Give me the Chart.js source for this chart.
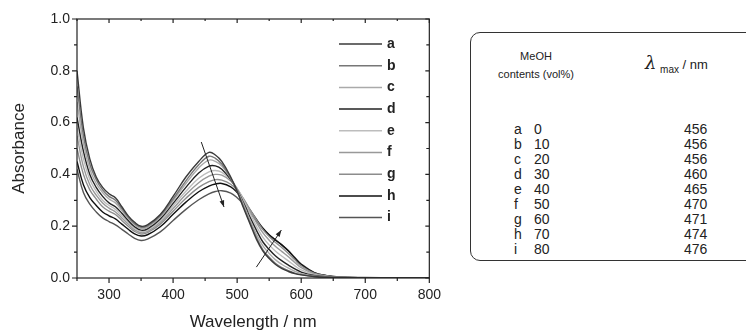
<!DOCTYPE html>
<html>
<head>
<meta charset="utf-8">
<script src="https://cdn.jsdelivr.net/npm/chart.js@4.4.1/dist/chart.umd.min.js"></script>
<style>
  html, body { margin: 0; padding: 0; background: #fff; width: 746px; height: 333px; overflow: hidden; font-family: "Liberation Sans", Arial, sans-serif; }
  #wrap { position: absolute; left: 0; top: 0; width: 450px; height: 333px; }
  #box { position: absolute; left: 470px; top: 32px; width: 300px; height: 227px; border: 1.3px solid #333; border-radius: 10px; color: #222; }
  #box div { position: absolute; white-space: nowrap; }
  .hd { font-size: 11px; transform: translate(-50%, -50%); }
  .cell { font-size: 14px; line-height: 15px; transform: translateY(-50%); }
</style>
</head>
<body>
<div id="wrap"><canvas id="spectra"></canvas></div>
<div id="box">
  <div class="hd" style="left:65px; top:23px;">MeOH</div>
  <div class="hd" style="left:65px; top:41px;">contents (vol%)</div>
  <div style="left:174px; top:19px; font-size:13px;"><span style="font-family:'DejaVu Serif', serif; font-style:italic; font-size:18px;">λ</span> <sub style="font-size:10px;">max</sub> / nm</div>
</div>
<script>
// wavelength grid (nm) shared by all spectra
const wavelengths = [250,260,270,280,290,300,310,320,330,340,350,360,380,400,420,440,456,466,476,490,500,510,520,530,540,550,560,570,580,590,600,620,640,660,700,750,800];

// absorbance, one array per MeOH content
const absA = [0.80,0.58,0.46,0.39,0.35,0.325,0.31,0.275,0.24,0.215,0.200,0.205,0.245,0.315,0.39,0.45,0.485,0.475,0.45,0.39,0.335,0.27,0.21,0.15,0.105,0.075,0.052,0.036,0.025,0.017,0.012,0.006,0.003,0.002,0.001,0.001,0.001];
const absB = [0.74,0.55,0.44,0.38,0.34,0.315,0.30,0.268,0.235,0.21,0.196,0.20,0.24,0.305,0.375,0.437,0.47,0.462,0.44,0.385,0.335,0.275,0.215,0.158,0.11,0.08,0.056,0.04,0.028,0.019,0.013,0.006,0.003,0.002,0.001,0.001,0.001];
const absC = [0.68,0.52,0.42,0.365,0.33,0.305,0.29,0.26,0.23,0.205,0.19,0.195,0.235,0.298,0.365,0.425,0.455,0.45,0.432,0.385,0.34,0.285,0.225,0.17,0.125,0.095,0.07,0.052,0.038,0.026,0.017,0.008,0.004,0.002,0.001,0.001,0.001];
const absD = [0.62,0.49,0.40,0.35,0.315,0.29,0.275,0.25,0.222,0.198,0.185,0.19,0.228,0.288,0.35,0.405,0.432,0.433,0.42,0.38,0.34,0.29,0.235,0.185,0.14,0.11,0.085,0.066,0.05,0.035,0.023,0.01,0.005,0.002,0.001,0.001,0.001];
const absE = [0.58,0.46,0.38,0.335,0.30,0.28,0.265,0.24,0.215,0.192,0.18,0.185,0.222,0.278,0.335,0.385,0.41,0.415,0.408,0.38,0.345,0.30,0.25,0.20,0.158,0.128,0.103,0.084,0.066,0.047,0.031,0.013,0.006,0.003,0.001,0.001,0.001];
const absF = [0.55,0.43,0.36,0.32,0.29,0.27,0.255,0.232,0.208,0.186,0.175,0.18,0.215,0.268,0.322,0.368,0.393,0.40,0.397,0.375,0.345,0.305,0.26,0.215,0.175,0.146,0.122,0.102,0.082,0.06,0.04,0.016,0.007,0.003,0.001,0.001,0.001];
const absG = [0.50,0.40,0.34,0.305,0.275,0.258,0.245,0.222,0.20,0.18,0.17,0.175,0.208,0.258,0.308,0.35,0.372,0.38,0.378,0.362,0.338,0.305,0.265,0.225,0.188,0.16,0.137,0.117,0.095,0.07,0.047,0.019,0.008,0.003,0.001,0.001,0.001];
const absH = [0.45,0.36,0.31,0.28,0.255,0.24,0.228,0.208,0.188,0.17,0.162,0.167,0.198,0.246,0.293,0.333,0.355,0.363,0.365,0.352,0.33,0.30,0.263,0.227,0.193,0.167,0.146,0.127,0.104,0.077,0.052,0.021,0.009,0.004,0.001,0.001,0.001];
const absI = [0.42,0.33,0.285,0.255,0.232,0.218,0.205,0.188,0.17,0.153,0.145,0.15,0.178,0.222,0.265,0.302,0.325,0.334,0.337,0.328,0.31,0.285,0.253,0.22,0.19,0.166,0.147,0.128,0.106,0.079,0.054,0.022,0.009,0.004,0.002,0.001,0.001];

const seriesNames = ['a','b','c','d','e','f','g','h','i'];
const meohContents = [0,10,20,30,40,50,60,70,80];
const lambdaMax = [456,456,456,460,465,470,471,474,476];
const lineColors = ['#3a3a3a','#777777','#aaaaaa','#222222','#bdbdbd','#999999','#8c8c8c','#111111','#555555'];

const xTickValues = [250,300,350,400,450,500,550,600,650,700,750,800];
const xTickLabels = [300,400,500,600,700,800];
const yTickValues = [0,0.2,0.4,0.6,0.8,1.0];

// annotation arrows, [start, end] in data units
const arrowDown = [[444, 0.525], [479.5, 0.274]];
const arrowUp = [[530, 0.042], [569, 0.185]];

const allSeries = [absA, absB, absC, absD, absE, absF, absG, absH, absI];

// table rows
const box = document.getElementById('box');
seriesNames.forEach(function(name, k) {
  const y = 96 + k * 15;
  [[43, name], [63, meohContents[k]], [213, lambdaMax[k]]].forEach(function(c) {
    const d = document.createElement('div');
    d.className = 'cell';
    d.style.left = c[0] + 'px';
    d.style.top = y + 'px';
    d.textContent = c[1];
    box.appendChild(d);
  });
});

const datasets = allSeries.map(function(vals, k) {
  return {
    label: seriesNames[k],
    data: wavelengths.map(function(w, j) { return { x: w, y: vals[j] }; }),
    borderColor: lineColors[k],
    borderWidth: 1.4,
    pointRadius: 0,
    tension: 0.4,
    fill: false
  };
});

function drawArrow(ctx, x0, y0, x1, y1) {
  const ang = Math.atan2(y1 - y0, x1 - x0);
  ctx.beginPath();
  ctx.moveTo(x0, y0);
  ctx.lineTo(x1, y1);
  ctx.stroke();
  ctx.beginPath();
  ctx.moveTo(x1, y1);
  ctx.lineTo(x1 - 7 * Math.cos(ang - 0.35), y1 - 7 * Math.sin(ang - 0.35));
  ctx.lineTo(x1 - 7 * Math.cos(ang + 0.35), y1 - 7 * Math.sin(ang + 0.35));
  ctx.closePath();
  ctx.fill();
}

// frame, ticks, legend and arrows
const framePlugin = {
  id: 'frame',
  afterDraw: function(chart) {
    const ctx = chart.ctx;
    const a = chart.chartArea;
    const xs = chart.scales.x, ys = chart.scales.y;
    ctx.save();
    ctx.strokeStyle = '#222';
    ctx.fillStyle = '#222';
    ctx.lineWidth = 1.2;
    ctx.strokeRect(a.left, a.top, a.right - a.left, a.bottom - a.top);
    ctx.beginPath();
    xTickValues.forEach(function(v) {
      const px = xs.getPixelForValue(v);
      const major = xTickLabels.indexOf(v) >= 0;
      ctx.moveTo(px, a.bottom);
      ctx.lineTo(px, a.bottom + (major ? 5 : 3));
      ctx.moveTo(px, a.top);
      ctx.lineTo(px, a.top + (major ? 4 : 2));
    });
    for (let v = 0; v <= 1.0001; v += 0.1) {
      const py = ys.getPixelForValue(v);
      const major = Math.round(v * 10) % 2 === 0;
      ctx.moveTo(a.left, py);
      ctx.lineTo(a.left - (major ? 5 : 3), py);
      ctx.moveTo(a.right, py);
      ctx.lineTo(a.right - (major ? 4 : 3), py);
    }
    ctx.stroke();

    // legend
    ctx.font = 'bold 14px "Liberation Sans", Arial, sans-serif';
    ctx.textBaseline = 'middle';
    ctx.textAlign = 'left';
    seriesNames.forEach(function(name, k) {
      const y = a.top + 25 + k * 21.7;
      ctx.strokeStyle = lineColors[k];
      ctx.lineWidth = 1.5;
      ctx.beginPath();
      ctx.moveTo(a.left + 262, y);
      ctx.lineTo(a.left + 305, y);
      ctx.stroke();
      ctx.fillStyle = '#222';
      ctx.fillText(name, a.left + 310, y);
    });

    // arrows
    ctx.strokeStyle = '#222';
    ctx.fillStyle = '#222';
    ctx.lineWidth = 1;
    [arrowDown, arrowUp].forEach(function(ar) {
      drawArrow(ctx, xs.getPixelForValue(ar[0][0]), ys.getPixelForValue(ar[0][1]),
                xs.getPixelForValue(ar[1][0]), ys.getPixelForValue(ar[1][1]));
    });
    ctx.restore();
  }
};

const tickFont = { family: '"Liberation Sans", Arial, sans-serif', size: 14 };
const titleFont = { family: '"Liberation Sans", Arial, sans-serif', size: 17 };

new Chart(document.getElementById('spectra').getContext('2d'), {
  type: 'line',
  data: { datasets: datasets },
  options: {
    responsive: true,
    maintainAspectRatio: false,
    animation: false,
    layout: { padding: { top: 19, right: 18, left: 0, bottom: 0 } },
    plugins: { legend: { display: false }, tooltip: { enabled: false } },
    scales: {
      x: {
        type: 'linear',
        min: 250,
        max: 800,
        afterBuildTicks: function(scale) { scale.ticks = xTickLabels.map(function(v) { return { value: v }; }); },
        afterFit: function(scale) { scale.height = 55; },
        grid: { display: false, drawTicks: false },
        border: { display: false },
        ticks: { color: '#222', font: tickFont, padding: 9, maxRotation: 0 },
        title: { display: true, text: 'Wavelength / nm', color: '#222', font: titleFont, padding: { top: 0, bottom: 0 } }
      },
      y: {
        min: 0,
        max: 1.0,
        afterBuildTicks: function(scale) { scale.ticks = yTickValues.map(function(v) { return { value: v }; }); },
        afterFit: function(scale) { scale.width = 77; },
        grid: { display: false, drawTicks: false },
        border: { display: false },
        ticks: { color: '#222', font: tickFont, padding: 7, callback: function(v) { return v.toFixed(1); } },
        title: { display: true, text: 'Absorbance', color: '#222', font: titleFont, padding: { top: 9, bottom: 0 } }
      }
    }
  },
  plugins: [framePlugin]
});
</script>
</body>
</html>
